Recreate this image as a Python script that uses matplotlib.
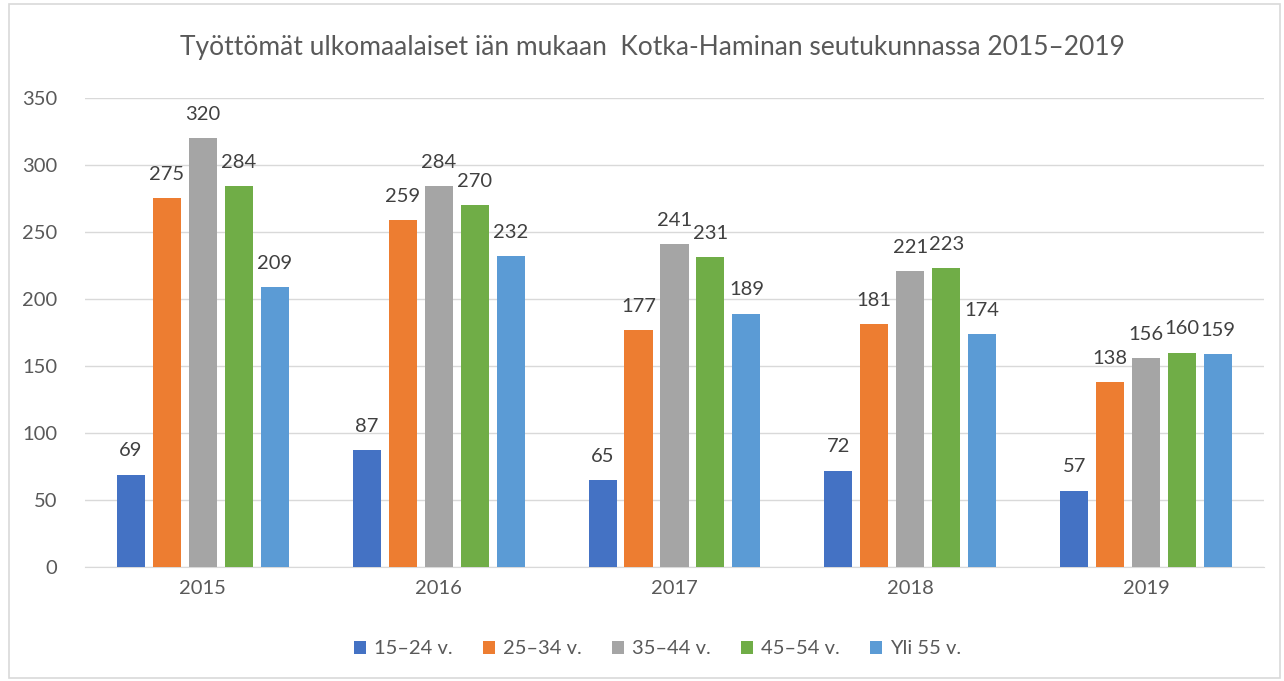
import matplotlib.pyplot as plt
import numpy as np
from matplotlib.patches import Rectangle

plt.rcParams['font.family'] = ['Lato', 'DejaVu Sans']

vuodet = ['2015', '2016', '2017', '2018', '2019']
ryhmat = ['15–24 v.', '25–34 v.', '35–44 v.', '45–54 v.', 'Yli 55 v.']
v15_24 = [69, 87, 65, 72, 57]
v25_34 = [275, 259, 177, 181, 138]
v35_44 = [320, 284, 241, 221, 156]
v45_54 = [284, 270, 231, 223, 160]
yli55 = [209, 232, 189, 174, 159]
sarjat = [v15_24, v25_34, v35_44, v45_54, yli55]
varit = ['#4472C4', '#ED7D31', '#A5A5A5', '#70AD47', '#5B9BD5']

fig = plt.figure(figsize=(12.84, 6.81), dpi=100)
ax = fig.add_axes([0.0662, 0.1674, 0.9182, 0.6887])

x = np.arange(len(vuodet))
leveys = 0.119
askel = 0.1525
for i, (arvot, vari) in enumerate(zip(sarjat, varit)):
    pos = x + (i - 2) * askel
    bars = ax.bar(pos, arvot, leveys, color=vari, label=ryhmat[i], zorder=3)
    ax.bar_label(bars, padding=11, fontsize=14.5, color='#404040')

ax.set_xlim(-0.5, 4.5)
ax.set_ylim(0, 350)
ax.set_yticks(range(0, 351, 50))
ax.set_xticks(x)
ax.set_xticklabels(vuodet)
ax.grid(axis='y', color='#D9D9D9', linewidth=1, zorder=0)
for s in ['top', 'right', 'left']:
    ax.spines[s].set_visible(False)
ax.spines['bottom'].set_color('#D9D9D9')
ax.tick_params(axis='both', length=0, labelsize=14.5, colors='#595959')
ax.tick_params(axis='y', pad=20)
ax.tick_params(axis='x', pad=9)

fig.text(0.508, 0.93, 'Työttömät ulkomaalaiset iän mukaan  Kotka-Haminan seutukunnassa 2015–2019',
         ha='center', va='center', fontsize=19, color='#595959')

fig.legend(loc='center', bbox_to_anchor=(0.512, 0.047), ncol=5, frameon=False,
           fontsize=14.5, handlelength=0.6, handleheight=0.6, handletextpad=0.4,
           columnspacing=1.5, labelcolor='#595959')

fig.patches.append(Rectangle((0.007, 0.004), 0.99, 0.99, transform=fig.transFigure,
                             fill=False, edgecolor='#D9D9D9', linewidth=1.2))

fig.savefig('out.png', dpi=100)
